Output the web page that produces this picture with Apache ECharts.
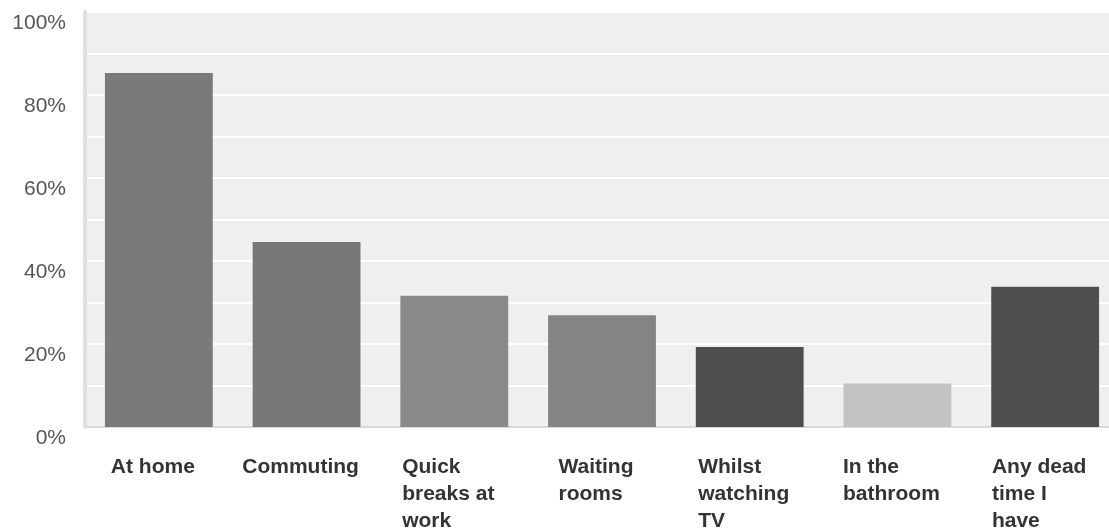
<!DOCTYPE html>
<html>
<head>
<meta charset="utf-8">
<script src="https://cdn.jsdelivr.net/npm/echarts@6/dist/echarts.min.js"></script>
<style>
html,body{margin:0;padding:0;background:#fff;}
#chart{width:1109px;height:528px;}
</style>
</head>
<body>
<div id="chart"></div>
<script>
const categories = [
  ['At home'],
  ['Commuting'],
  ['Quick', 'breaks at', 'work'],
  ['Waiting', 'rooms'],
  ['Whilst', 'watching', 'TV'],
  ['In the', 'bathroom'],
  ['Any dead', 'time I', 'have']
];
const values = [85.3, 44.6, 31.6, 26.9, 19.3, 10.5, 33.8];
const barColors = ['#7a7a7a', '#777777', '#898989', '#848484', '#4e4e4e', '#c3c3c3', '#4f4f4f'];
const yTickLabels = [0, 20, 40, 60, 80, 100];

const chart = echarts.init(document.getElementById('chart'), null, {renderer: 'canvas'});
chart.setOption({
  animation: false,
  backgroundColor: '#ffffff',
  grid: {
    left: 85, width: 1034, top: 12, bottom: 101,
    outerBoundsMode: 'none',
    containLabel: false,
    show: true, backgroundColor: '#efefef', borderWidth: 0
  },
  xAxis: {
    type: 'category',
    data: categories.map(c => c.join('\n')),
    axisLine: {show: true, lineStyle: {color: '#d9d9d9', width: 2}},
    axisTick: {show: false},
    axisLabel: {
      margin: 27,
      interval: 0,
      align: 'center',
      padding: [0, 12, 0, 0],
      formatter: v => v.split('\n').map(l => '{a|' + l + '}').join('\n'),
      rich: {
        a: {
          align: 'left',
          fontFamily: '"Liberation Sans", Arial, sans-serif',
          fontSize: 21,
          fontWeight: 'bold',
          color: '#333333',
          lineHeight: 27
        }
      }
    }
  },
  yAxis: {
    type: 'value',
    min: 0, max: 100, interval: 10,
    axisLine: {show: true, lineStyle: {color: '#e0e0e0', width: 4}},
    axisTick: {show: false},
    splitLine: {show: true, lineStyle: {color: '#ffffff', width: 2}},
    axisLabel: {
      margin: 19,
      verticalAlign: 'top',
      padding: [1, 0, 0, 0],
      fontFamily: '"Liberation Sans", Arial, sans-serif',
      fontSize: 21,
      color: '#555555',
      formatter: v => yTickLabels.indexOf(v) >= 0 ? v + '%' : ''
    }
  },
  series: [{
    type: 'bar',
    barWidth: '73%',
    data: values.map((v, i) => ({value: v, itemStyle: {color: barColors[i]}}))
  }]
});
</script>
</body>
</html>
